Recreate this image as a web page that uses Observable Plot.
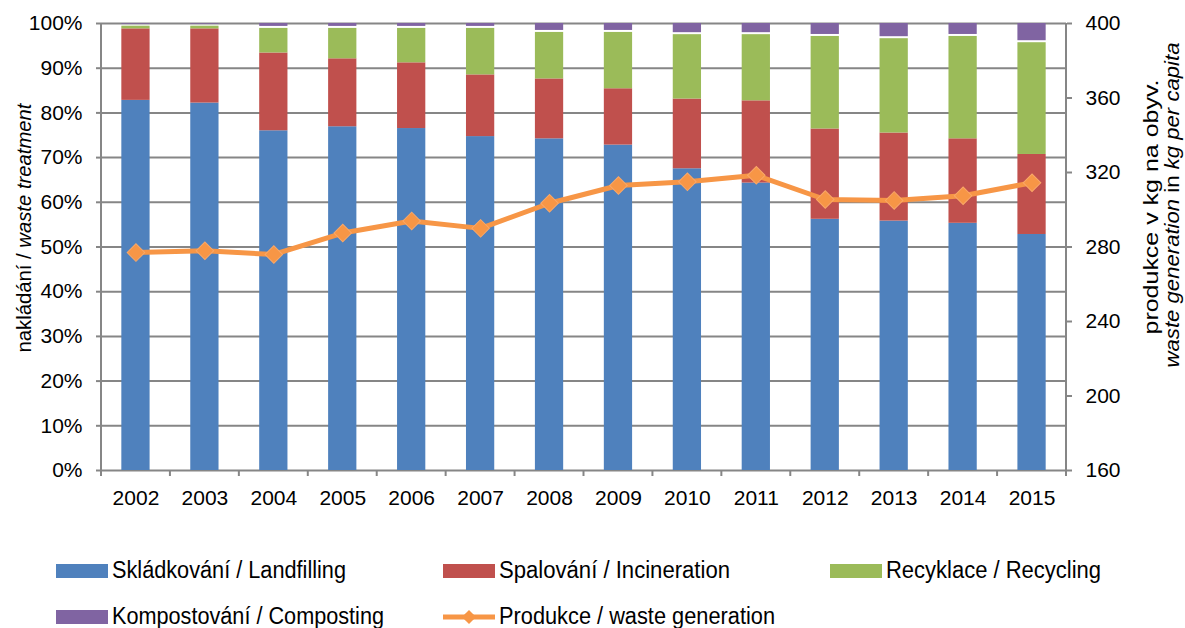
<!DOCTYPE html>
<html><head><meta charset="utf-8">
<script src="https://cdn.jsdelivr.net/npm/d3@7"></script>
<script src="https://cdn.jsdelivr.net/npm/@observablehq/plot@0.6"></script>
<style>
body{margin:0;background:#fff;}
#chart{position:relative;width:1185px;height:628px;font-family:"Liberation Sans",Arial,sans-serif;}
#chart svg{display:block;}
</style>
</head><body><div id="chart"></div>
<script>
const years = ["2002","2003","2004","2005","2006","2007","2008","2009","2010","2011","2012","2013","2014","2015"];
const landfilling  = [82.8, 82.2, 76.0, 76.9, 76.5, 74.7, 74.2, 72.8, 67.5, 64.3, 56.2, 55.8, 55.3, 52.8];
const incineration = [16.0, 16.6, 17.4, 15.2, 14.7, 13.8, 13.4, 12.6, 15.6, 18.4, 20.2, 19.7, 18.9, 17.9];
const recycling    = [ 0.6,  0.6,  5.5,  6.8,  7.7, 10.4, 10.4, 12.6, 14.4, 14.8, 20.7, 21.1, 22.9, 25.0];
const composting   = [ 0.6,  0.6,  1.1,  1.1,  1.1,  1.1,  2.0,  2.0,  2.5,  2.5,  2.9,  3.4,  2.9,  4.3];
const wasteGeneration = [277, 278, 276, 287.5, 294, 290, 303.5, 313, 315, 318.5, 305.5, 305, 307.5, 314.5];

const seriesNames = ["Skládkování / Landfilling","Spalování / Incineration","Recyklace / Recycling","Kompostování / Composting"];
const lineName = "Produkce / waste generation";
const pctTicks = [0,10,20,30,40,50,60,70,80,90,100];
const kgTicks = [160,200,240,280,320,360,400];

const seriesValues = [landfilling, incineration, recycling, composting];
const colors = ["#4F81BD","#C0504D","#9BBB59","#8064A2"];
const lineColor = "#F79646";
const gridColor = "#868686";
const kgMin = kgTicks[0], kgMax = kgTicks[kgTicks.length-1];
const toPct = v => (v - kgMin) / (kgMax - kgMin) * 100;

const rows = [];
years.forEach((yr, i) => {
  let base = 0;
  seriesValues.forEach((vals, s) => {
    rows.push({year: yr, series: seriesNames[s], y1: base, y2: base + vals[i]});
    base += vals[i];
  });
});
const lineRows = years.map((yr, i) => ({year: yr, kg: wasteGeneration[i]}));

const W = 1185, H = 530, ML = 101, MR = 119, MT = 23, MB = 60;

const plot = Plot.plot({
  width: W, height: H,
  marginLeft: ML, marginRight: MR, marginTop: MT, marginBottom: MB,
  style: {fontFamily: '"Liberation Sans", Arial, sans-serif', fontSize: "21px", color: "#000", background: "#fff"},
  x: {type: "band", domain: years, paddingInner: 0.59, paddingOuter: 0.295, round: false, axis: null},
  y: {domain: [0, 100], axis: null},
  color: {domain: seriesNames, range: colors},
  marks: [
    Plot.ruleY(pctTicks, {stroke: gridColor, strokeWidth: 2}),
    Plot.barY(rows.filter(d => d.series !== seriesNames[3]), {x: "year", y1: "y1", y2: "y2", fill: "series"}),
    Plot.barY(rows.filter(d => d.series === seriesNames[3]), {x: "year", y1: "y1", y2: "y2", fill: "series", insetBottom: 2}),
    Plot.line(lineRows, {x: "year", y: d => toPct(d.kg), stroke: lineColor, strokeWidth: 5, strokeLinejoin: "round"}),
    Plot.dot(lineRows, {x: "year", y: d => toPct(d.kg), symbol: "square", rotate: 45, r: 7, fill: lineColor, stroke: "#F9A868", strokeWidth: 1}),
    Plot.axisY({anchor: "left", ticks: pctTicks, tickFormat: d => d + "%", tickSize: 5, tickPadding: 14, stroke: gridColor, strokeWidth: 2, label: null}),
    Plot.axisY({anchor: "right", ticks: kgTicks.map(toPct), tickFormat: p => String(Math.round(kgMin + p / 100 * (kgMax - kgMin))), tickSize: 5, tickPadding: 14, stroke: gridColor, strokeWidth: 2, label: null}),
    Plot.axisX({anchor: "bottom", tickSize: 0, tickPadding: 20, label: null})
  ]
});

document.getElementById("chart").appendChild(plot);

// frame lines and category-boundary ticks
const svg = d3.select(plot);
const xs = plot.scale("x"), ys = plot.scale("y");
const y0 = ys.apply(0), y100 = ys.apply(100);
const half = (xs.step - xs.bandwidth) / 2;
const bounds = years.map(yr => xs.apply(yr) - half);
bounds.push(xs.apply(years[years.length-1]) + xs.bandwidth + half);
const g = svg.append("g").attr("stroke", gridColor).attr("stroke-width", 2);
g.append("line").attr("x1", bounds[0]).attr("x2", bounds[0]).attr("y1", y100).attr("y2", y0);
g.append("line").attr("x1", bounds[bounds.length-1]).attr("x2", bounds[bounds.length-1]).attr("y1", y100).attr("y2", y0);
bounds.forEach(b => g.append("line").attr("x1", b).attr("x2", b).attr("y1", y0).attr("y2", y0 + 6));

// axis titles
const ff = '"Liberation Sans", Arial, sans-serif';
const lt = svg.append("text").attr("transform", "translate(31,228) rotate(-90)")
  .attr("text-anchor", "middle").attr("font-family", ff).attr("font-size", 20).attr("fill", "#000")
  .attr("textLength", 249).attr("lengthAdjust", "spacingAndGlyphs");
lt.append("tspan").text("nakládání / ");
lt.append("tspan").attr("font-style", "italic").text("waste treatment");

svg.append("text").attr("transform", "translate(1158,207) rotate(-90)")
  .attr("text-anchor", "middle").attr("font-family", ff).attr("font-size", 20).attr("fill", "#000")
  .attr("textLength", 255).attr("lengthAdjust", "spacingAndGlyphs")
  .text("produkce v kg na obyv.");
const rt = svg.append("text").attr("transform", "translate(1179,205) rotate(-90)")
  .attr("text-anchor", "middle").attr("font-family", ff).attr("font-size", 20).attr("fill", "#000")
  .attr("textLength", 325).attr("lengthAdjust", "spacingAndGlyphs");
rt.append("tspan").attr("font-style", "italic").text("waste generation ");
rt.append("tspan").text("in ");
rt.append("tspan").attr("font-style", "italic").text("kg per capita");

// legend below
const leg = d3.select("#chart").append("svg").attr("width", W).attr("height", 628 - H);
const legendItems = [
  {name: seriesNames[0], color: colors[0], x: 56, row: 0, len: 234},
  {name: seriesNames[1], color: colors[1], x: 443, row: 0, len: 231},
  {name: seriesNames[2], color: colors[2], x: 830, row: 0, len: 215},
  {name: seriesNames[3], color: colors[3], x: 56, row: 1, len: 272},
  {name: lineName, color: lineColor, x: 443, row: 1, len: 276, line: true}
];
legendItems.forEach(it => {
  const base = 48 + it.row * 46;
  if (it.line) {
    leg.append("line").attr("x1", it.x).attr("x2", it.x + 52).attr("y1", base - 7).attr("y2", base - 7)
      .attr("stroke", it.color).attr("stroke-width", 5);
    leg.append("rect").attr("x", -5).attr("y", -5).attr("width", 10).attr("height", 10)
      .attr("transform", `translate(${it.x + 26},${base - 7}) rotate(45)`).attr("fill", it.color);
  } else {
    leg.append("rect").attr("x", it.x).attr("y", base - 14).attr("width", 52).attr("height", 14).attr("fill", it.color);
  }
  leg.append("text").attr("x", it.x + 56).attr("y", base).attr("font-family", ff).attr("font-size", 23)
    .attr("fill", "#000").attr("textLength", it.len).attr("lengthAdjust", "spacingAndGlyphs").text(it.name);
});
</script>
</body></html>
